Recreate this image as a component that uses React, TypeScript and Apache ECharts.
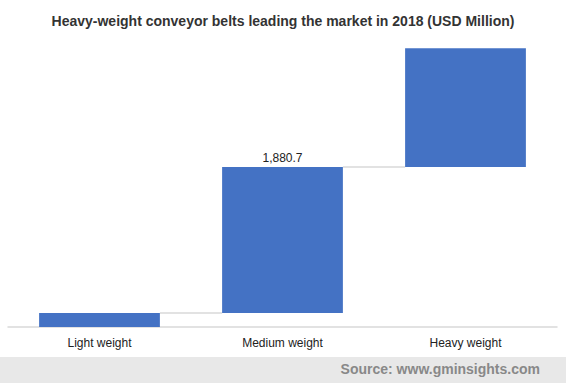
import React, { useEffect, useRef } from "react";
import * as echarts from "echarts";

const categories = ["Light weight", "Medium weight", "Heavy weight"];
const values = [180, 1880.7, 1530];
const labelTexts = ["", "1,880.7", ""];
const titleText = "Heavy-weight conveyor belts leading the market in 2018 (USD Million)";
const sourceText = "Source: www.gminsights.com";

export default function App() {
  const ref = useRef<HTMLDivElement>(null);
  useEffect(() => {
    if (!ref.current) return;
    const chart = echarts.init(ref.current, undefined, { renderer: "svg" });
    const bases: number[] = [];
    let acc = 0;
    values.forEach((v) => {
      bases.push(acc);
      acc += v;
    });
    const connectors = values.slice(0, -1).map((v, i) => [i, bases[i] + v]);
    const font = "Arial, 'Liberation Sans', sans-serif";
    chart.setOption({
      animation: false,
      title: {
        text: titleText,
        left: "center",
        top: 9,
        textStyle: { fontFamily: font, fontSize: 14, fontWeight: "bold", color: "#333" },
      },
      grid: { left: 8, right: 9, top: 16.5, bottom: 56, containLabel: false },
      xAxis: {
        type: "category",
        data: categories,
        axisLine: { lineStyle: { color: "#d9d9d9", width: 1.5 } },
        axisTick: { show: false },
        axisLabel: { fontFamily: font, fontSize: 12, color: "#222", margin: 10 },
      },
      yAxis: { type: "value", min: 0, max: 4000, show: false, splitLine: { show: false } },
      graphic: [
        { type: "rect", shape: { x: 0, y: 357, width: 566, height: 26 }, style: { fill: "#e8e8e8" }, z: -1 },
        {
          type: "text",
          x: 540,
          y: 369,
          style: {
            text: sourceText,
            align: "right",
            verticalAlign: "middle",
            fontFamily: font,
            fontSize: 14,
            fontWeight: "bold",
            fill: "#888",
          },
        },
      ],
      series: [
        {
          type: "bar",
          stack: "wf",
          data: bases,
          itemStyle: { color: "transparent" },
          barWidth: "66%",
          silent: true,
        },
        {
          type: "bar",
          stack: "wf",
          data: values.map((v, i) => ({
            value: v,
            label: {
              show: labelTexts[i] !== "",
              formatter: labelTexts[i],
              position: "top",
              distance: 3,
              fontFamily: font,
              fontSize: 12,
              color: "#222",
            },
          })),
          itemStyle: { color: "#4472c4" },
          barWidth: "66%",
        },
        {
          type: "custom",
          data: connectors,
          renderItem: (params: any, api: any) => {
            const i = api.value(0);
            const y = api.value(1);
            const p1 = api.coord([i, y]);
            const p2 = api.coord([i + 1, y]);
            const band = api.size([1, 0])[0];
            const half = (band * 0.66) / 2;
            return {
              type: "line",
              shape: { x1: p1[0] + half, y1: p1[1], x2: p2[0] - half, y2: p2[1] },
              style: { stroke: "#d9d9d9", lineWidth: 1.5 },
            };
          },
          z: 1,
        },
      ],
    });
    return () => chart.dispose();
  }, []);
  return (
    <div
      ref={ref}
      style={{ position: "fixed", left: 0, top: 0, width: 566, height: 383, background: "#fff" }}
    />
  );
}
